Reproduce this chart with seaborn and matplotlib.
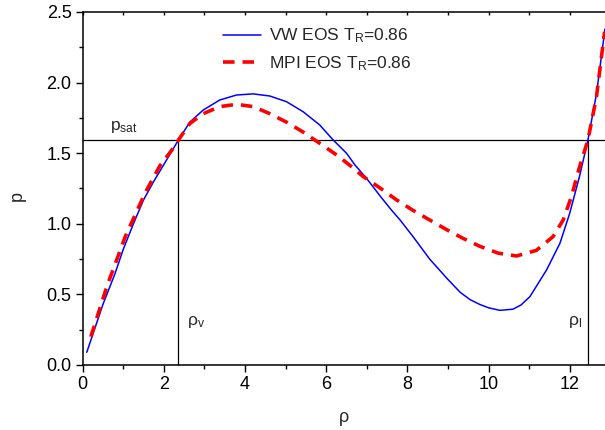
import numpy as np
import pandas as pd
import matplotlib
matplotlib.use("Agg")
import matplotlib.pyplot as plt
import seaborn as sns
from matplotlib.ticker import MultipleLocator, FormatStrFormatter

# --- data ---
vw_rho = [0.1, 0.3, 0.5, 0.8, 1.0, 1.25, 1.5, 1.75, 2.0, 2.36, 2.64, 2.97, 3.38, 3.79,
          4.20, 4.61, 5.02, 5.43, 5.84, 6.17, 6.50, 6.71, 7.0, 7.32, 7.6, 7.82, 8.14,
          8.55, 8.97, 9.3, 9.55, 9.79, 10.0, 10.28, 10.6, 10.8, 11.02, 11.43, 11.76,
          12.0, 12.24, 12.45, 12.66, 12.87]
vw_p = [0.09, 0.26, 0.43, 0.65, 0.82, 1.00, 1.17, 1.30, 1.42, 1.594, 1.72, 1.806,
        1.877, 1.912, 1.92, 1.905, 1.865, 1.794, 1.70, 1.594, 1.50, 1.416, 1.32, 1.20,
        1.10, 1.027, 0.909, 0.750, 0.615, 0.515, 0.462, 0.428, 0.405, 0.387, 0.395,
        0.425, 0.484, 0.673, 0.862, 1.074, 1.333, 1.594, 1.92, 2.38]

mpi_rho = [0.2, 0.6, 1.05, 1.54, 1.9, 2.23, 2.36, 2.64, 2.97, 3.38, 3.79, 4.20, 4.61,
           5.02, 5.43, 5.84, 6.26, 6.6, 6.91, 7.32, 7.73, 8.14, 8.55, 8.97, 9.37, 9.79,
           10.24, 10.69, 11.18, 11.59, 11.84, 12.04, 12.24, 12.45, 12.66, 12.86]
mpi_p = [0.20, 0.56, 0.91, 1.22, 1.41, 1.535, 1.594, 1.71, 1.78, 1.83, 1.846, 1.83,
         1.78, 1.72, 1.65, 1.57, 1.487, 1.41, 1.335, 1.255, 1.17, 1.095, 1.027, 0.958,
         0.897, 0.840, 0.792, 0.772, 0.812, 0.909, 1.027, 1.19, 1.40, 1.594, 1.90, 2.36]

p_sat = 1.594
rho_v = 2.36
rho_l = 12.45

vw_label = r'VW EOS T$_{\mathrm{R}}$=0.86'
mpi_label = r'MPI EOS T$_{\mathrm{R}}$=0.86'

sns.set_theme(style="ticks")
plt.rcParams['font.family'] = ['Liberation Sans', 'DejaVu Sans']
plt.rcParams['mathtext.fontset'] = 'custom'
plt.rcParams['mathtext.rm'] = 'Liberation Sans'
plt.rcParams['mathtext.it'] = 'Liberation Sans'

fig = plt.figure(figsize=(6.05, 4.30), dpi=100)
ax = fig.add_axes([0.1367, 0.1512, 0.8633, 0.8209])

vw = pd.DataFrame({'rho': vw_rho, 'p': vw_p})
mpi = pd.DataFrame({'rho': mpi_rho, 'p': mpi_p})

sns.lineplot(data=vw, x='rho', y='p', ax=ax, color='#0000ff', lw=1.1,
             label=vw_label, estimator=None, sort=False)
sns.lineplot(data=mpi, x='rho', y='p', ax=ax, color='#ff0000', lw=2.6,
             label=mpi_label, estimator=None, sort=False)
ax.lines[-1].set_dashes((3.2, 2.2))
for ln in ax.lines:
    ln.set_solid_joinstyle('round')
    ln.set_dash_joinstyle('round')

xmax = 12.87
ax.plot([0, xmax], [p_sat, p_sat], color='black', lw=0.9, zorder=1)
ax.plot([rho_v, rho_v], [0, p_sat], color='black', lw=0.9, zorder=1)
ax.plot([rho_l, rho_l], [0, p_sat], color='black', lw=0.9, zorder=1)

ax.text(0.67, 1.665, r'p$_{\mathrm{sat}}$', fontsize=12.5)
ax.text(2.58, 0.28, r'ρ$_{\mathrm{v}}$', fontsize=12.5)
ax.text(11.95, 0.28, r'ρ$_{\mathrm{l}}$', fontsize=12.5)

ax.set_xlim(0, xmax)
ax.set_ylim(0, 2.5)
ax.xaxis.set_major_locator(MultipleLocator(2))
ax.xaxis.set_minor_locator(MultipleLocator(1))
ax.yaxis.set_major_locator(MultipleLocator(0.5))
ax.yaxis.set_minor_locator(MultipleLocator(0.25))
ax.yaxis.set_major_formatter(FormatStrFormatter('%.1f'))

ax.tick_params(which='major', direction='out', length=5, width=1, labelsize=13,
               colors='black', pad=3)
ax.tick_params(which='minor', direction='out', length=3, width=1, colors='black')
ax.tick_params(axis='x', which='both', top=True, labeltop=False)

ax.spines['right'].set_visible(False)
ax.spines['top'].set_visible(True)
for s in ['left', 'bottom', 'top']:
    ax.spines[s].set_linewidth(1.1)
    ax.spines[s].set_color('black')

# top ticks inward and short
for t in ax.xaxis.get_major_ticks() + ax.xaxis.get_minor_ticks():
    t.tick2line.set_marker(matplotlib.lines.TICKDOWN)
    t.tick2line.set_markersize(2.5)

ax.set_xlabel('ρ', fontsize=13)
ax.set_ylabel('p', fontsize=13)
ax.xaxis.set_label_coords(0.5, -0.125)
ax.yaxis.set_label_coords(-0.108, 0.48)

leg = ax.legend(loc='upper left', bbox_to_anchor=(0.243, 0.995), frameon=False,
                fontsize=12.5, handlelength=2.2, handletextpad=0.45,
                labelspacing=0.5, borderaxespad=0.35)

fig.savefig('out.png', dpi=100)
